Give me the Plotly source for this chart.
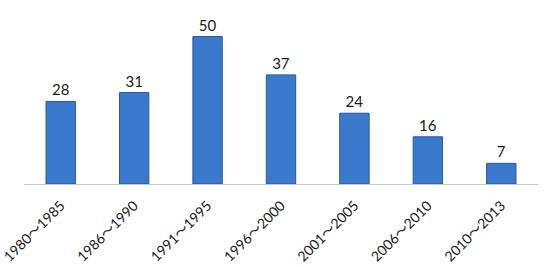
import plotly.graph_objects as go

categories = ["1980～1985", "1986～1990", "1991～1995", "1996～2000", "2001～2005", "2006～2010", "2010～2013"]
values = [28, 31, 50, 37, 24, 16, 7]

fig = go.Figure(go.Bar(
    x=categories,
    y=values,
    text=values,
    textposition="outside",
    textfont=dict(size=15, color="#1a1a1a", family="Lato"),
    cliponaxis=False,
    marker=dict(color="#3a79cb", line=dict(color="#25589c", width=1)),
))

fig.update_layout(
    width=545, height=267,
    margin=dict(l=24, r=7, t=10, b=83),
    paper_bgcolor="white", plot_bgcolor="white",
    bargap=0.6,
    showlegend=False,
    font=dict(family="Lato", color="#1a1a1a"),
)
fig.update_xaxes(
    tickangle=-45,
    tickfont=dict(size=14, family="Lato, 'Noto Sans CJK SC'", color="#1a1a1a"),
    showline=True, linecolor="#c8c8c8", linewidth=1,
    ticks="outside", ticklen=7, tickcolor="rgba(0,0,0,0)",
    automargin=False,
)
fig.update_yaxes(visible=False, range=[0, 59], automargin=False)

fig.write_html("out.html")
